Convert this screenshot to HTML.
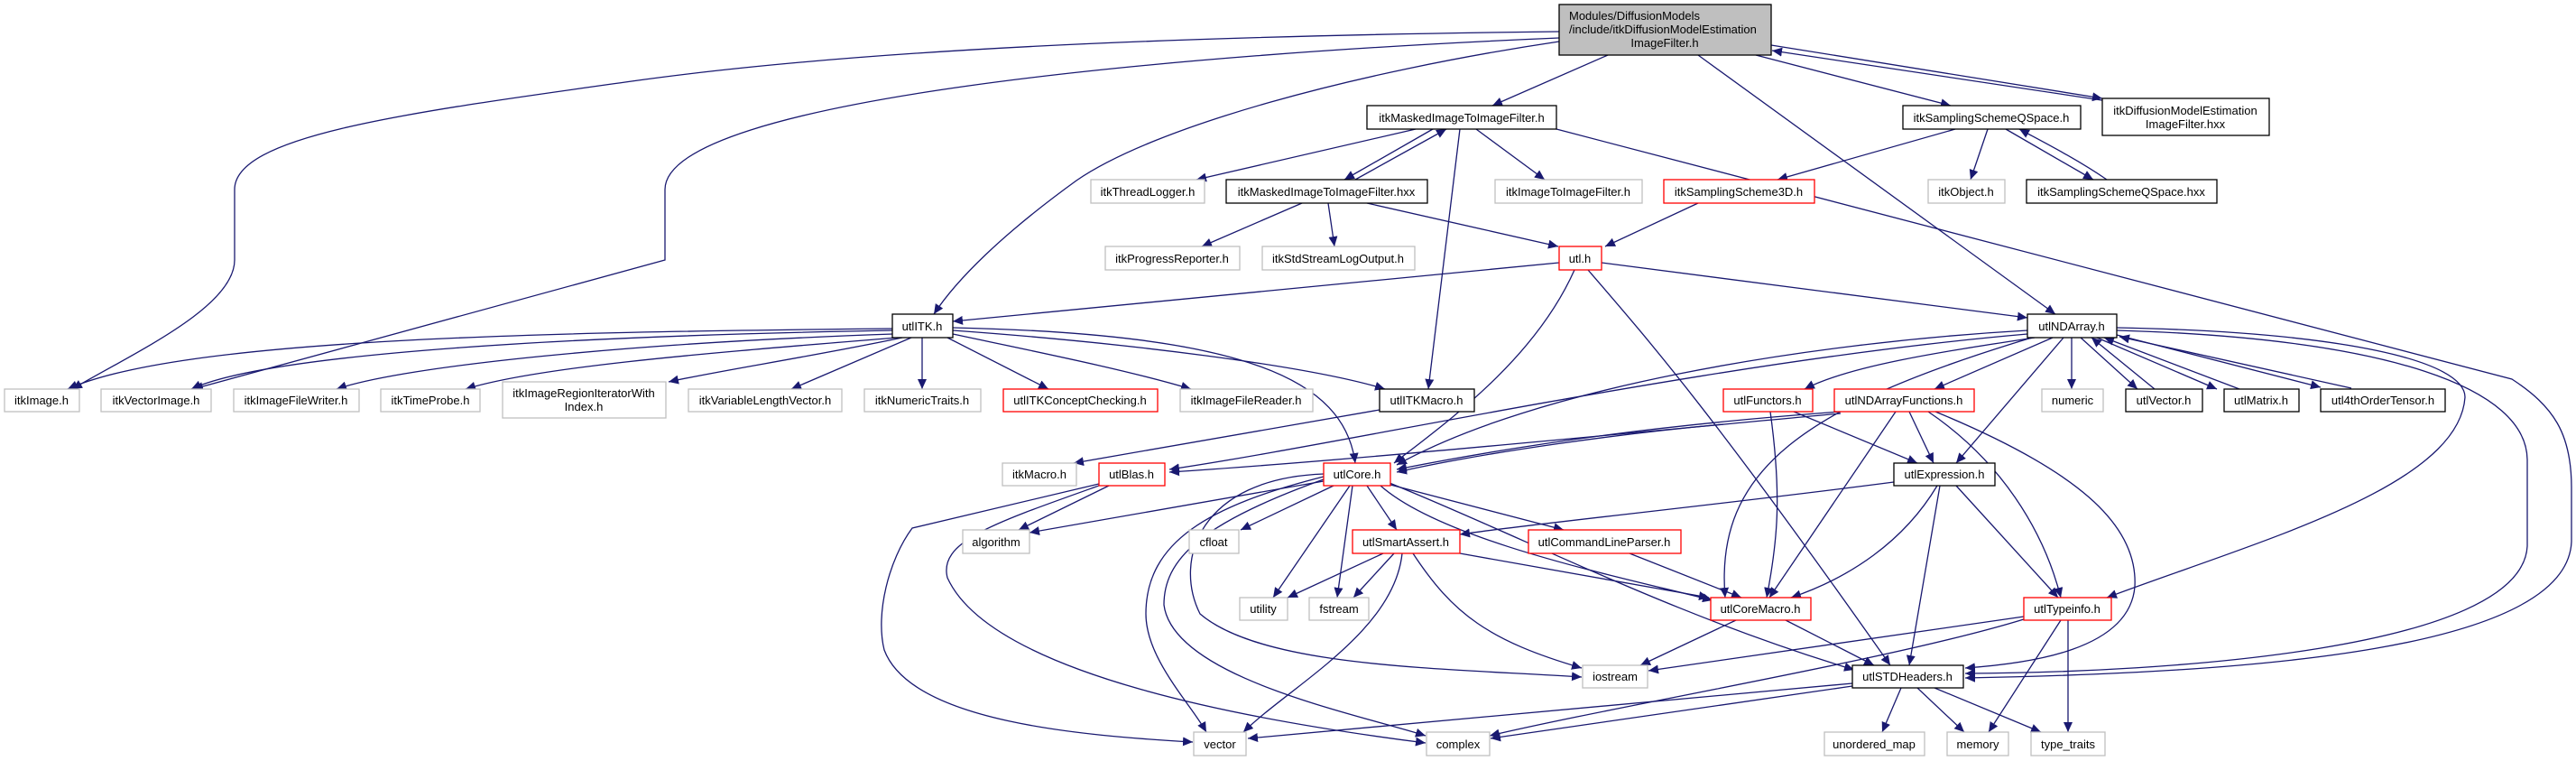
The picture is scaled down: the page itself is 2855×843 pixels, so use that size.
<!DOCTYPE html>
<html><head><meta charset="utf-8"><style>
html,body{margin:0;padding:0;background:#fff;}
svg{display:block;}
text{font-family:"Liberation Sans",sans-serif;font-size:13px;fill:#000;}
.e{fill:none;stroke:#191970;stroke-width:1.3;marker-end:url(#a);}
.g{fill:#fff;stroke:#bfbfbf;stroke-width:1.3;}
.r{fill:#fff;stroke:#ff0000;stroke-width:1.3;}
.b{fill:#fff;stroke:#000;stroke-width:1.3;}
</style></head><body>
<svg width="2855" height="843" viewBox="0 0 2855 843" xmlns="http://www.w3.org/2000/svg">
<defs><marker id="a" markerUnits="userSpaceOnUse" markerWidth="12" markerHeight="10" refX="11" refY="5" orient="auto"><path d="M0,0 L11,5 L0,10 z" fill="#191970"/></marker></defs>

<g>
<path class="e" d="M1728,35 C1300,40 950,55 700,90 C450,125 260,150 260,210 L260,288 C260,340 150,390 80,431"/>
<path class="e" d="M1728,42 C1300,60 737,110 737,210 L737,288 L214,431"/>
<path class="e" d="M1728,46 C1500,80 1280,140 1193,200 C1110,260 1060,310 1035,348"/>
<path class="e" d="M1782,61 L1654,117"/>
<path class="e" d="M1946,61 L2162,117"/>
<path class="e" d="M1882,61 L2278,348"/>
<path class="e" d="M1963,50 L2330,109"/>
<path class="e" d="M2336,112 L1964,56"/>
<path class="e" d="M1725,143 L2784,420 C2830,450 2850,480 2850,540 L2850,600 C2845,720 2500,745 2178,751"/>
<path class="e" d="M1569,143 L1326,199"/>
<path class="e" d="M1588,143 L1490,199"/>
<path class="e" d="M1502,199 L1603,143"/>
<path class="e" d="M1636,143 L1712,199"/>
<path class="e" d="M1618,143 L1583,431"/>
<path class="e" d="M1443,225 L1332,273"/>
<path class="e" d="M1472,225 L1479,273"/>
<path class="e" d="M1515,225 L1727,273"/>
<path class="e" d="M1882,225 L1779,273"/>
<path class="e" d="M2167,143 L1970,199"/>
<path class="e" d="M2203,143 L2184,199"/>
<path class="e" d="M2223,143 L2320,199"/>
<path class="e" d="M2335,199 C2300,175 2260,155 2238,143"/>
<path class="e" d="M1728,291 L1056,356"/>
<path class="e" d="M1775,291 L2247,352"/>
<path class="e" d="M1745,299 C1700,400 1600,470 1545,513"/>
<path class="e" d="M1760,299 C1830,380 1900,460 2095,737"/>
<path class="e" d="M1022,374 L1022,431"/>
<path class="e" d="M989,364 C600,368 200,375 75,431"/>
<path class="e" d="M989,366 C650,372 300,390 212,431"/>
<path class="e" d="M990,370 C700,380 450,405 373,431"/>
<path class="e" d="M994,374 C800,390 600,405 516,431"/>
<path class="e" d="M1000,374 C900,395 800,410 741,423"/>
<path class="e" d="M1010,374 L877,431"/>
<path class="e" d="M1050,374 L1162,431"/>
<path class="e" d="M1056,370 C1150,390 1250,410 1320,431"/>
<path class="e" d="M1056,366 C1250,380 1450,405 1535,431"/>
<path class="e" d="M1056,363 C1380,370 1490,420 1502,513"/>
<path class="e" d="M1529,454 L1190,513"/>
<path class="e" d="M2296,374 L2296,431"/>
<path class="e" d="M2306,374 L2369,431"/>
<path class="e" d="M2388,431 L2318,374"/>
<path class="e" d="M2324,374 L2457,431"/>
<path class="e" d="M2482,431 L2332,374"/>
<path class="e" d="M2346,371 L2572,429"/>
<path class="e" d="M2606,430 L2349,373"/>
<path class="e" d="M2255,374 C2150,390 2050,405 2000,431"/>
<path class="e" d="M2275,374 L2144,431"/>
<path class="e" d="M2287,374 L2168,513"/>
<path class="e" d="M2346,363 C2600,368 2732,400 2732,440 C2725,540 2500,600 2335,662"/>
<path class="e" d="M2346,366 C2650,375 2801,430 2801,510 L2801,605 C2795,720 2400,745 2178,746"/>
<path class="e" d="M2247,366 C2000,380 1700,430 1548,515"/>
<path class="e" d="M2247,370 C1900,400 1500,490 1296,520"/>
<path class="e" d="M2252,374 C2000,450 1900,520 1912,662"/>
<path class="e" d="M2040,456 C1850,470 1700,490 1548,520"/>
<path class="e" d="M1910,470 C1800,480 1650,500 1548,523"/>
<path class="e" d="M2040,458 C1800,480 1500,510 1296,523"/>
<path class="e" d="M1962,456 C1975,550 1970,600 1958,662"/>
<path class="e" d="M2101,456 L1961,662"/>
<path class="e" d="M1988,456 L2125,513"/>
<path class="e" d="M2116,456 L2143,513"/>
<path class="e" d="M2137,456 C2217,510 2265,587 2284,662"/>
<path class="e" d="M2145,456 C2300,520 2370,580 2366,650 C2360,720 2250,735 2178,740"/>
<path class="e" d="M2147,538 C2110,600 2050,640 1985,662"/>
<path class="e" d="M2150,538 L2116,737"/>
<path class="e" d="M2168,538 L2281,662"/>
<path class="e" d="M2099,534 C1900,560 1700,580 1618,592"/>
<path class="e" d="M1979,687 L2077,737"/>
<path class="e" d="M1924,687 L1818,737"/>
<path class="e" d="M2243,683 L1827,743"/>
<path class="e" d="M2243,686 C2100,730 1800,780 1651,815"/>
<path class="e" d="M2284,687 L2204,811"/>
<path class="e" d="M2292,687 L2292,811"/>
<path class="e" d="M2053,757 L1383,818"/>
<path class="e" d="M2053,760 L1652,818"/>
<path class="e" d="M2107,762 L2086,811"/>
<path class="e" d="M2125,762 L2177,811"/>
<path class="e" d="M2144,762 L2262,811"/>
<path class="e" d="M1533,613 L1427,662"/>
<path class="e" d="M1545,613 L1500,662"/>
<path class="e" d="M1554,613 C1545,700 1430,760 1378,811"/>
<path class="e" d="M1566,613 C1610,680 1650,710 1753,740"/>
<path class="e" d="M1618,613 L1894,662"/>
<path class="e" d="M1806,613 L1930,662"/>
<path class="e" d="M1467,533 L1141,590"/>
<path class="e" d="M1478,538 L1375,587"/>
<path class="e" d="M1496,538 L1411,662"/>
<path class="e" d="M1499,538 L1482,662"/>
<path class="e" d="M1515,538 L1548,587"/>
<path class="e" d="M1541,537 L1733,587"/>
<path class="e" d="M1530,538 C1600,600 1800,640 1898,665"/>
<path class="e" d="M1540,535 C1700,600 1850,680 2055,742"/>
<path class="e" d="M1467,528 C1340,560 1270,600 1270,680 C1270,730 1320,780 1337,811"/>
<path class="e" d="M1467,531 C1330,580 1290,620 1290,670 C1300,750 1500,790 1580,815"/>
<path class="e" d="M1467,525 C1330,530 1300,620 1330,680 C1400,740 1600,740 1753,750"/>
<path class="e" d="M1229,538 L1129,587"/>
<path class="e" d="M1218,536 L1011,585 C985,620 970,680 980,720 C1010,800 1200,815 1322,822"/>
<path class="e" d="M1218,538 C1100,580 1040,600 1050,640 C1100,750 1400,800 1580,823"/>
</g>

<g>
<rect x="1728" y="5" width="235" height="56" fill="#bfbfbf" stroke="#000" stroke-width="1.3"/>
<text x="1739" y="22">Modules/DiffusionModels</text>
<text x="1739" y="37">/include/itkDiffusionModelEstimation</text>
<text x="1845" y="52" text-anchor="middle">ImageFilter.h</text>

<rect class="b" x="1515" y="117" width="210" height="26"/><text x="1620" y="135" text-anchor="middle">itkMaskedImageToImageFilter.h</text>
<rect class="b" x="2330" y="109" width="185" height="41"/><text x="2422" y="127" text-anchor="middle">itkDiffusionModelEstimation</text><text x="2422" y="142" text-anchor="middle">ImageFilter.hxx</text>
<rect class="b" x="2109" y="117" width="197" height="26"/><text x="2207" y="135" text-anchor="middle">itkSamplingSchemeQSpace.h</text>

<rect class="g" x="1209" y="199" width="126" height="26"/><text x="1272" y="217" text-anchor="middle">itkThreadLogger.h</text>
<rect class="b" x="1359" y="199" width="223" height="26"/><text x="1470" y="217" text-anchor="middle">itkMaskedImageToImageFilter.hxx</text>
<rect class="g" x="1657" y="199" width="163" height="26"/><text x="1738" y="217" text-anchor="middle">itkImageToImageFilter.h</text>
<rect class="r" x="1844" y="199" width="167" height="26"/><text x="1927" y="217" text-anchor="middle">itkSamplingScheme3D.h</text>
<rect class="g" x="2137" y="199" width="85" height="26"/><text x="2179" y="217" text-anchor="middle">itkObject.h</text>
<rect class="b" x="2246" y="199" width="211" height="26"/><text x="2351" y="217" text-anchor="middle">itkSamplingSchemeQSpace.hxx</text>

<rect class="g" x="1225" y="273" width="149" height="26"/><text x="1299" y="291" text-anchor="middle">itkProgressReporter.h</text>
<rect class="g" x="1399" y="273" width="169" height="26"/><text x="1483" y="291" text-anchor="middle">itkStdStreamLogOutput.h</text>
<rect class="r" x="1728" y="273" width="47" height="26"/><text x="1751" y="291" text-anchor="middle">utl.h</text>

<rect class="b" x="989" y="348" width="67" height="26"/><text x="1022" y="366" text-anchor="middle">utlITK.h</text>
<rect class="b" x="2247" y="348" width="99" height="26"/><text x="2296" y="366" text-anchor="middle">utlNDArray.h</text>

<rect class="g" x="5" y="431" width="83" height="25"/><text x="46" y="448" text-anchor="middle">itkImage.h</text>
<rect class="g" x="112" y="431" width="122" height="25"/><text x="173" y="448" text-anchor="middle">itkVectorImage.h</text>
<rect class="g" x="259" y="431" width="139" height="25"/><text x="328" y="448" text-anchor="middle">itkImageFileWriter.h</text>
<rect class="g" x="422" y="431" width="110" height="25"/><text x="477" y="448" text-anchor="middle">itkTimeProbe.h</text>
<rect class="g" x="557" y="423" width="181" height="40"/><text x="647" y="440" text-anchor="middle">itkImageRegionIteratorWith</text><text x="647" y="455" text-anchor="middle">Index.h</text>
<rect class="g" x="763" y="431" width="170" height="25"/><text x="848" y="448" text-anchor="middle">itkVariableLengthVector.h</text>
<rect class="g" x="958" y="431" width="129" height="25"/><text x="1022" y="448" text-anchor="middle">itkNumericTraits.h</text>
<rect class="r" x="1112" y="431" width="171" height="25"/><text x="1197" y="448" text-anchor="middle">utlITKConceptChecking.h</text>
<rect class="g" x="1308" y="431" width="147" height="25"/><text x="1381" y="448" text-anchor="middle">itkImageFileReader.h</text>
<rect class="b" x="1529" y="431" width="105" height="25"/><text x="1581" y="448" text-anchor="middle">utlITKMacro.h</text>
<rect class="r" x="1910" y="431" width="99" height="25"/><text x="1959" y="448" text-anchor="middle">utlFunctors.h</text>
<rect class="r" x="2033" y="431" width="155" height="25"/><text x="2110" y="448" text-anchor="middle">utlNDArrayFunctions.h</text>
<rect class="g" x="2263" y="431" width="68" height="25"/><text x="2297" y="448" text-anchor="middle">numeric</text>
<rect class="b" x="2356" y="431" width="85" height="25"/><text x="2398" y="448" text-anchor="middle">utlVector.h</text>
<rect class="b" x="2465" y="431" width="83" height="25"/><text x="2506" y="448" text-anchor="middle">utlMatrix.h</text>
<rect class="b" x="2572" y="431" width="138" height="25"/><text x="2641" y="448" text-anchor="middle">utl4thOrderTensor.h</text>

<rect class="g" x="1111" y="513" width="82" height="25"/><text x="1152" y="530" text-anchor="middle">itkMacro.h</text>
<rect class="r" x="1218" y="513" width="73" height="25"/><text x="1254" y="530" text-anchor="middle">utlBlas.h</text>
<rect class="r" x="1467" y="513" width="74" height="25"/><text x="1504" y="530" text-anchor="middle">utlCore.h</text>
<rect class="b" x="2099" y="513" width="112" height="25"/><text x="2155" y="530" text-anchor="middle">utlExpression.h</text>

<rect class="g" x="1067" y="587" width="74" height="26"/><text x="1104" y="605" text-anchor="middle">algorithm</text>
<rect class="g" x="1318" y="587" width="55" height="26"/><text x="1345" y="605" text-anchor="middle">cfloat</text>
<rect class="r" x="1499" y="587" width="119" height="26"/><text x="1558" y="605" text-anchor="middle">utlSmartAssert.h</text>
<rect class="r" x="1694" y="587" width="169" height="26"/><text x="1778" y="605" text-anchor="middle">utlCommandLineParser.h</text>

<rect class="g" x="1374" y="662" width="53" height="25"/><text x="1400" y="679" text-anchor="middle">utility</text>
<rect class="g" x="1451" y="662" width="66" height="25"/><text x="1484" y="679" text-anchor="middle">fstream</text>
<rect class="r" x="1896" y="662" width="111" height="25"/><text x="1951" y="679" text-anchor="middle">utlCoreMacro.h</text>
<rect class="r" x="2243" y="662" width="97" height="25"/><text x="2291" y="679" text-anchor="middle">utlTypeinfo.h</text>

<rect class="g" x="1754" y="737" width="72" height="25"/><text x="1790" y="754" text-anchor="middle">iostream</text>
<rect class="b" x="2053" y="737" width="123" height="25"/><text x="2114" y="754" text-anchor="middle">utlSTDHeaders.h</text>

<rect class="g" x="1323" y="811" width="58" height="26"/><text x="1352" y="829" text-anchor="middle">vector</text>
<rect class="g" x="1581" y="811" width="70" height="26"/><text x="1616" y="829" text-anchor="middle">complex</text>
<rect class="g" x="2022" y="811" width="111" height="26"/><text x="2077" y="829" text-anchor="middle">unordered_map</text>
<rect class="g" x="2158" y="811" width="68" height="26"/><text x="2192" y="829" text-anchor="middle">memory</text>
<rect class="g" x="2251" y="811" width="82" height="26"/><text x="2292" y="829" text-anchor="middle">type_traits</text>
</g>
</svg>
</body></html>
